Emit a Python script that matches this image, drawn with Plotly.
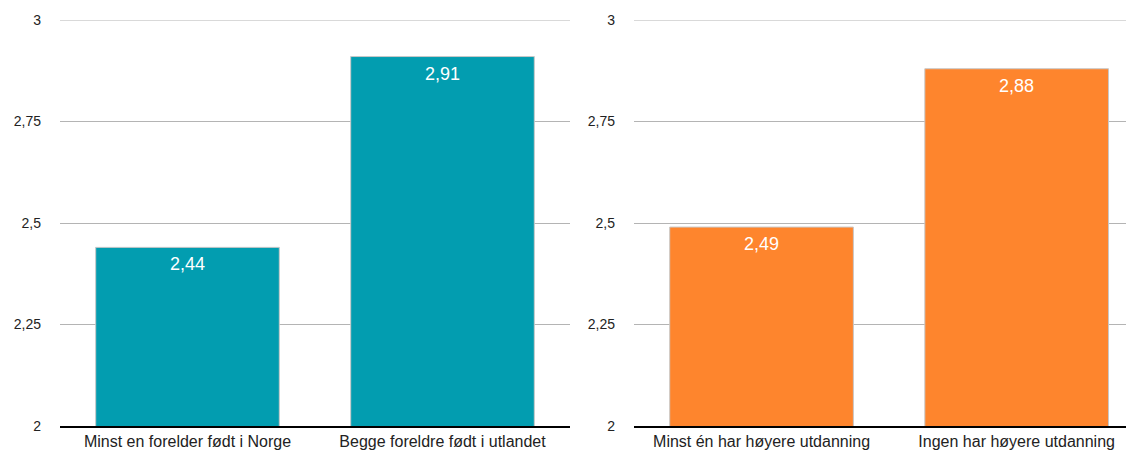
import plotly.graph_objects as go
from plotly.subplots import make_subplots

# data
left_categories = ['Minst en forelder født i Norge', 'Begge foreldre født i utlandet']
left_values = [2.44, 2.91]
right_categories = ['Minst én har høyere utdanning', 'Ingen har høyere utdanning']
right_values = [2.49, 2.88]
y_ticks = [2, 2.25, 2.5, 2.75, 3]

teal = '#029DB0'
orange = '#FE852D'

# page body has an 8px margin, so the figure is 8px smaller than the window
W, H = 1126, 442

fig = make_subplots(rows=1, cols=2, horizontal_spacing=0.06)

fig.add_trace(go.Bar(
    x=left_categories, y=left_values, width=0.72,
    marker=dict(color=teal, line=dict(color='#c8c8c8', width=1))
), row=1, col=1)

fig.add_trace(go.Bar(
    x=right_categories, y=right_values, width=0.72,
    marker=dict(color=orange, line=dict(color='#c8c8c8', width=1))
), row=1, col=2)

# verdier inne i stolpene
for cats, vals, xref, yref in [(left_categories, left_values, 'x', 'y'),
                               (right_categories, right_values, 'x2', 'y2')]:
    for c, v in zip(cats, vals):
        fig.add_annotation(x=c, y=v, xref=xref, yref=yref, text=f'{v:.2f}'.replace('.', ','),
                           showarrow=False, yanchor='top', yshift=-5,
                           font=dict(color='white', size=18))

# øverste rutenettlinje (plotly tegner den ikke helt i kanten)
for col in (1, 2):
    fig.add_hline(y=y_ticks[-1], line=dict(color='#b4b4b4', width=1), row=1, col=col)

fig.update_layout(
    width=W, height=H,
    margin=dict(l=0, r=0, t=12, b=24),
    showlegend=False,
    plot_bgcolor='white', paper_bgcolor='white',
    separators=', ',
    font=dict(family='Liberation Sans, Arial, sans-serif', size=14, color='#222222'),
    xaxis=dict(domain=[52 / W, 562 / W], range=[-0.5, 1.5]),
    xaxis2=dict(domain=[626 / W, 1.0], range=[-0.5, 1.46]),
)

fig.update_xaxes(showline=True, linecolor='black', linewidth=1.5, showgrid=False,
                 ticks='', tickfont=dict(size=16, color='#222222'), fixedrange=True)
fig.update_yaxes(range=[2, 3], tickvals=y_ticks, showgrid=True, gridcolor='#b4b4b4', gridwidth=1,
                 zeroline=False, ticks='', ticklabelstandoff=18,
                 tickfont=dict(size=14, color='#222222'))

fig.write_html('out.html')
